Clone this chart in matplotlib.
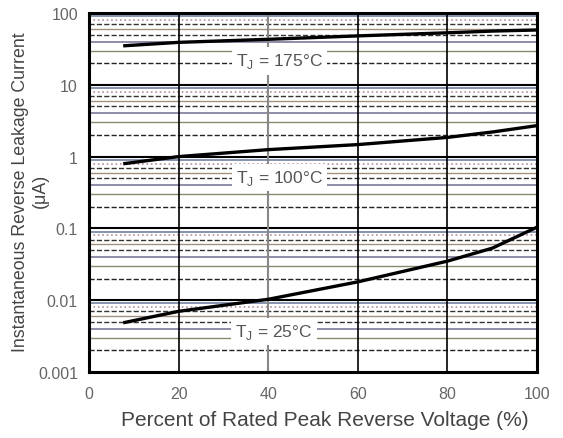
import matplotlib
matplotlib.use("Agg")
import matplotlib.pyplot as plt
import numpy as np

plt.rcParams['font.family'] = ['Liberation Sans', 'DejaVu Sans']

# Data (percent of rated peak reverse voltage, leakage current in uA)
x_pct = [8, 20, 40, 60, 80, 90, 100]
i_175 = [35, 39, 43, 48, 53, 56, 58]
i_100 = [0.80, 1.0, 1.25, 1.47, 1.85, 2.2, 2.7]
i_25 = [0.0049, 0.0070, 0.0103, 0.018, 0.035, 0.053, 0.104]

labels = ["T$_\\mathregular{J}$ = 175°C", "T$_\\mathregular{J}$ = 100°C", "T$_\\mathregular{J}$ = 25°C"]
label_x = [42.5, 42.5, 41.3]
label_y = [21.5, 0.51, 0.0037]

xticks = [0, 20, 40, 60, 80, 100]
yticks = [0.001, 0.01, 0.1, 1, 10, 100]
yticklabels = ["0.001", "0.01", "0.1", "1", "10", "100"]

W, H = 563, 439
fig = plt.figure(figsize=(W / 100, H / 100), dpi=100)
ax = fig.add_axes([89/W, 1-373/H, (537-89)/W, (373-14)/H])
ax.set_yscale('log')
ax.set_xlim(0, 100)
ax.set_ylim(0.001, 100)

# minor horizontal gridlines with mixed styles like the scanned chart
minor_styles = {
    2: ('#222222', '--', 1.0),
    3: ('#8a8a70', '-', 1.0),
    4: ('#7a7a9a', '-', 1.2),
    5: ('#333333', '--', 1.0),
    6: ('#a09080', '-', 1.0),
    7: ('#333333', '--', 1.0),
    8: ('#b090a0', ':', 1.2),
    9: ('#7080a0', '-', 1.2),
}
for dec in [0.001, 0.01, 0.1, 1, 10]:
    for m, (c, ls, lw) in minor_styles.items():
        ax.axhline(dec * m, color=c, ls=ls, lw=lw, zorder=1)
for dec in [0.01, 0.1, 1, 10]:
    ax.axhline(dec, color='black', lw=1.5, zorder=1.5)

for xv in [20, 60, 80]:
    ax.axvline(xv, color='black', lw=1.2, zorder=1.5)
ax.axvline(40, color='#888888', lw=1.5, zorder=1.5)

for ys in [i_175, i_100, i_25]:
    ax.plot(x_pct, ys, color='black', lw=2.4, zorder=3)

for t, lx, ly in zip(labels, label_x, label_y):
    ax.text(lx, ly, t, ha='center', va='center', fontsize=12.5, color='#555555',
            bbox=dict(facecolor='white', edgecolor='none', pad=3), zorder=4)

ax.set_xticks(xticks)
ax.set_xticklabels([str(v) for v in xticks])
ax.set_yticks(yticks)
ax.set_yticklabels(yticklabels)
ax.yaxis.set_minor_locator(matplotlib.ticker.NullLocator())
ax.tick_params(axis='x', length=0, labelsize=11.5, colors='#666666', pad=10)
ax.tick_params(axis='y', length=0, labelsize=11.5, colors='#666666', pad=8)
for s in ax.spines.values():
    s.set_linewidth(2.2)
    s.set_color('black')

ax.set_xlabel("Percent of Rated Peak Reverse Voltage (%)", fontsize=15, color='#444444')
ax.xaxis.set_label_coords((325 - 89) / 448, -(411 - 373) / 359)

# two-line y-axis title
fig.text(21/W, 1-192/H, "Instantaneous Reverse Leakage Current", rotation=90,
         ha='center', va='center', fontsize=12.8, color='#444444')
fig.text(40/W, 1-191/H, "(μA)", rotation=90,
         ha='center', va='center', fontsize=12.8, color='#444444')

fig.savefig("out.png", dpi=100)
